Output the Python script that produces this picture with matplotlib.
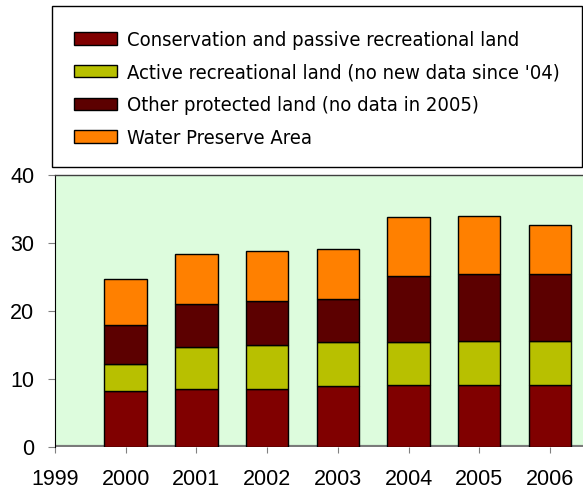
import matplotlib
matplotlib.use("Agg")
import matplotlib.pyplot as plt
from matplotlib.patches import Rectangle
import numpy as np

years = [2000, 2001, 2002, 2003, 2004, 2005, 2006]
conservation = [8.2, 8.5, 8.6, 8.9, 9.1, 9.1, 9.1]
active = [4.0, 6.2, 6.4, 6.5, 6.4, 6.5, 6.5]
other = [5.7, 6.4, 6.4, 6.4, 9.6, 9.8, 9.8]
water = [6.8, 7.3, 7.4, 7.3, 8.7, 8.5, 7.3]
xticks = [1999, 2000, 2001, 2002, 2003, 2004, 2005, 2006]
yticks = [0, 10, 20, 30, 40]

labels = ["Conservation and passive recreational land",
          "Active recreational land (no new data since '04)",
          "Other protected land (no data in 2005)",
          "Water Preserve Area"]
colors = ["#800000", "#B8C000", "#5C0000", "#FF8000"]

fig = plt.figure(figsize=(5.83, 4.91), dpi=100)
ax = fig.add_axes([55/583, 44/491, 1 - 55/583 + 0.01, (447-175)/491])
ax.set_facecolor("#DDFCDD")

series = [conservation, active, other, water]
bottom = np.zeros(len(years))
handles = []
for vals, col, lab in zip(series, colors, labels):
    b = ax.bar(years, vals, width=0.6, bottom=bottom, color=col,
               edgecolor="black", linewidth=1.0, label=lab, zorder=3)
    handles.append(b)
    bottom += np.array(vals)

ax.axhline(0, color="#7a7a7a", lw=3, zorder=2)
ax.set_xlim(1999, 2006.55)
ax.set_ylim(0, 40)
ax.set_xticks(xticks)
ax.set_xticklabels([str(x) for x in xticks])
ax.set_yticks(yticks)

fs_tick = 15.5
for lbl in ax.get_xticklabels() + ax.get_yticklabels():
    lbl.set_fontfamily("Liberation Sans")
    lbl.set_fontsize(fs_tick)
ax.tick_params(axis="x", length=4, color="#808080", pad=12)
ax.tick_params(axis="y", length=5, color="#808080", pad=10)

ax.spines["right"].set_visible(False)
ax.spines["bottom"].set_visible(False)
ax.spines["top"].set_color("#404040")
ax.spines["left"].set_color("black")
ax.spines["top"].set_linewidth(1.0)

# legend frame
fig.patches.append(Rectangle((52/583, 1 - 167/491), 530/583, 161/491,
                             transform=fig.transFigure, facecolor="white",
                             edgecolor="black", linewidth=1.0, zorder=1))
leg = fig.legend(handles=handles, labels=labels, loc="upper left",
                 bbox_to_anchor=(64/583, 1 - 20.5/491), frameon=False,
                 prop={"family": "DejaVu Sans", "stretch": "condensed", "size": 14.5},
                 handlelength=2.15, handleheight=0.55, handletextpad=0.5,
                 labelspacing=0.68, borderpad=0)

fig.savefig("out.png", dpi=100)
